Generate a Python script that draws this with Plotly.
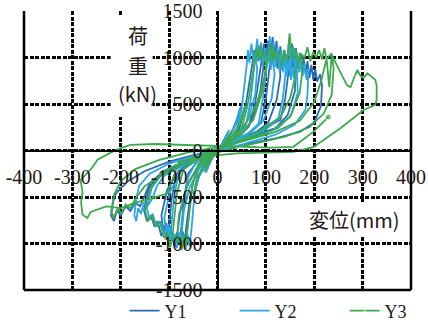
import plotly.graph_objects as go

# ---------------- data (displacement mm, load kN) ----------------
y1_x = [0, 8, 15, 22, 16, 5, -8, -16, -22, -14, -4, 6,
        20, 32, 42, 48, 40, 25, 5, -15, -30, -40, -46, -38, -22, 0,
        25, 45, 58, 66, 72, 76, 80, 84, 88, 92, 95, 88, 72, 50, 20, -10, -35, -50, -58, -64, -68, -72, -76, -80, -84, -78, -62, -40, -10, 15,
        45, 65, 78, 86, 92, 96, 100, 104, 108, 112, 116, 120, 124, 128, 130, 122, 105, 80, 40, 0, -40, -60, -68, -74, -78, -84, -88, -94, -100, -106, -112, -116, -104, -80, -50, 0,
        60, 90, 100, 106, 110, 114, 118, 122, 126, 130, 134, 138, 142, 146, 150, 154, 158, 162, 160, 145, 120, 80, 40, 0, -50, -85, -95, -100, -104, -110, -116, -124, -130, -138, -146, -152, -142, -115, -70, -20, 20,
        90, 130, 140, 146, 150, 154, 158, 162, 166, 170, 174, 178, 182, 186, 190, 194, 198, 202, 206, 212, 216, 214, 200, 170, 120, 60, 0, -60, -120, -140, -150, -160, -170, -180, -190, -200, -208, -214, -220, -216, -210, -185, -150, -100, -50, 0]
y1_y = [0, 60, 130, 200, 110, 30, -50, -130, -210, -110, -20, 40,
        120, 230, 360, 470, 300, 150, 40, -60, -160, -300, -420, -260, -120, 0,
        110, 230, 480, 720, 930, 1080, 960, 1120, 980, 1040, 900, 620, 330, 180, 80, -10, -120, -330, -560, -800, -980, -870, -1020, -900, -940, -680, -360, -170, -30, 50,
        150, 260, 520, 780, 1000, 1150, 950, 1180, 920, 1100, 980, 1060, 880, 980, 800, 540, 300, 200, 110, 10, -110, -240, -480, -760, -980, -880, -1040, -860, -940, -780, -850, -700, -420, -220, -100, 20,
        170, 300, 560, 820, 1040, 1220, 960, 1180, 900, 1120, 860, 1080, 880, 1040, 800, 1000, 780, 920, 640, 380, 240, 170, 90, 0, -120, -260, -520, -800, -960, -840, -920, -760, -820, -700, -760, -640, -400, -230, -120, -20, 60,
        220, 330, 560, 800, 980, 1150, 900, 1100, 880, 1050, 840, 1000, 820, 960, 780, 920, 760, 880, 740, 820, 700, 480, 300, 200, 130, 70, -10, -120, -260, -350, -480, -600, -560, -650, -600, -700, -640, -760, -700, -560, -460, -330, -220, -120, -50, 0]

y2_x = [0, 10, 18, 24, 17, 4, -10, -18, -24, -15, -3,
        15, 30, 40, 46, 38, 22, 0, -18, -32, -42, -48, -38, -20, 0,
        25, 40, 50, 56, 60, 63, 66, 70, 74, 78, 82, 78, 62, 40, 10, -20, -38, -46, -50, -54, -58, -62, -66, -70, -76, -72, -58, -36, -10, 15,
        40, 58, 68, 74, 78, 82, 86, 90, 94, 98, 102, 106, 110, 114, 118, 112, 95, 70, 30, -10, -45, -62, -68, -72, -76, -80, -84, -88, -94, -100, -106, -110, -98, -75, -40, 0,
        60, 85, 94, 100, 104, 108, 112, 116, 120, 124, 128, 132, 136, 140, 144, 148, 152, 156, 160, 164, 166, 152, 125, 85, 40, 0, -50, -80, -90, -95, -98, -104, -110, -118, -126, -134, -140, -146, -136, -110, -60, -10, 30,
        100, 125, 135, 140, 144, 148, 152, 156, 160, 164, 168, 172, 176, 180, 184, 188, 186, 182, 160, 120, 60, 0, -60, -110, -125, -135, -145, -152, -158, -164, -168, -172, -168, -162, -140, -100, -50, 0]
y2_y = [0, 70, 150, 220, 110, 20, -70, -160, -240, -120, -20,
        80, 200, 330, 450, 280, 130, 20, -70, -190, -340, -470, -280, -110, 0,
        100, 220, 450, 700, 900, 1080, 940, 1150, 980, 1060, 880, 600, 320, 170, 50, -40, -160, -380, -640, -860, -1030, -900, -1060, -920, -980, -700, -400, -180, -40, 40,
        140, 260, 520, 780, 1000, 1200, 960, 1160, 920, 1100, 900, 1060, 870, 1000, 820, 560, 320, 200, 100, 0, -130, -300, -560, -800, -1000, -880, -1050, -900, -980, -820, -880, -720, -440, -220, -90, 10,
        160, 290, 560, 820, 1030, 1230, 940, 1170, 900, 1120, 860, 1080, 840, 1020, 800, 980, 760, 900, 740, 860, 620, 380, 240, 160, 80, 0, -120, -240, -500, -780, -960, -820, -900, -760, -820, -680, -740, -620, -400, -220, -100, -10, 60,
        230, 330, 560, 800, 1000, 1180, 900, 1120, 860, 1060, 840, 980, 800, 940, 760, 880, 600, 440, 280, 170, 80, -10, -130, -270, -380, -520, -600, -560, -680, -620, -760, -700, -520, -380, -250, -140, -60, 0]

y3_x = [0, 12, 22, 30, 22, 6, -10, -20, -28, -18, -4,
        20, 38, 50, 56, 46, 28, 5, -15, -30, -42, -50, -40, -22, 0,
        30, 50, 62, 70, 76, 80, 84, 88, 92, 96, 100, 92, 74, 50, 15, -20, -40, -52, -58, -62, -66, -70, -74, -78, -84, -80, -64, -42, -14, 10,
        40, 60, 80, 97, 104, 108, 112, 116, 120, 126, 132, 138, 144, 149, 154, 160, 166, 172, 176, 170, 150, 115, 70, 20, -30, -70, -84, -90, -94, -98, -104, -110, -120, -128, -136, -144, -150, -140, -115, -70, -20, 30,
        90, 130, 150, 160, 166, 172, 180, 186, 192, 198, 204, 210, 216, 221, 226, 231, 236, 240, 236, 220, 190, 140, 80, 20, -50, -110, -150, -170, -180, -190, -198, -206, -214, -220, -214, -200, -170, -120, -60, 0, 60,
        120, 170, 200, 215, 225, 235, 244, 258, 268, 275, 282, 289, 296, 302, 310, 318, 326, 329, 329, 326, 302, 254, 198, 157, 100, 40, -20, -80, -103, -140, -170, -200, -230, -262, -269, -279, -282, -279, -283, -270, -258, -248, -220, -200, -180, -130, -70, 0, 60, 110, 157, 198, 229]
y3_y = [0, 60, 140, 210, 110, 20, -60, -150, -230, -110, -20,
        90, 200, 340, 470, 290, 140, 30, -50, -170, -320, -470, -280, -110, 0,
        110, 240, 480, 720, 920, 1100, 960, 1130, 1000, 1060, 900, 620, 330, 180, 60, -30, -150, -380, -640, -860, -1040, -900, -1070, -930, -990, -700, -400, -180, -40, 30,
        150, 300, 480, 790, 980, 1150, 940, 1120, 980, 1060, 900, 1080, 960, 1260, 980, 1100, 940, 1040, 880, 620, 360, 220, 140, 50, -60, -200, -460, -740, -960, -1040, -880, -940, -760, -820, -700, -760, -640, -420, -240, -110, -20, 70,
        220, 360, 560, 780, 980, 1040, 1000, 1110, 960, 1060, 1000, 1080, 980, 1100, 960, 680, 1040, 880, 600, 400, 250, 150, 80, 10, -100, -250, -380, -520, -620, -580, -680, -620, -720, -660, -480, -330, -200, -100, -20, 40, 110,
        200, 320, 520, 760, 980, 1040, 940, 800, 700, 680, 780, 865, 800, 780, 830, 790, 760, 700, 545, 490, 435, 240, 35, -15, -20, -30, -60, -120, -460, -520, -560, -620, -600, -660, -725, -690, -560, -450, -320, -240, -178, -100, -20, 25, 60, 70, 60, 45, 35, 30, 40, 200, 360]

series_names = ["Y1", "Y2", "Y3"]
series_colors = ["#2b6cb6", "#2aa7e4", "#3caa4c"]

x_ticks = [-400, -300, -200, -100, 0, 100, 200, 300, 400]
y_ticks = [-1500, -1000, -500, 0, 500, 1000, 1500]

# ---------------- figure ----------------
fig = go.Figure()
for name, xs, ys, col in zip(series_names, [y1_x, y2_x, y3_x], [y1_y, y2_y, y3_y], series_colors):
    if name == "Y3":
        sizes = [0] * len(xs)
        sizes[-1] = 6
        fig.add_trace(go.Scatter(x=xs, y=ys, name=name, mode="lines+markers",
                                 line=dict(color=col, width=1.8),
                                 marker=dict(size=sizes, color=col)))
    else:
        fig.add_trace(go.Scatter(x=xs, y=ys, name=name, mode="lines",
                                 line=dict(color=col, width=1.8)))

tickfont = dict(family="Liberation Serif, Times New Roman, serif", size=20, color="#231815")
grid = dict(showgrid=True, gridcolor="black", gridwidth=2.5, griddash="4px,1.5px")

fig.update_xaxes(range=[-400, 400], tickvals=x_ticks, ticktext=[str(v) for v in x_ticks],
                 anchor="free", position=0.5, side="bottom", showline=True, linecolor="black",
                 linewidth=2, zeroline=False, ticks="", ticklabelstandoff=8, tickfont=tickfont,
                 automargin=False, **grid)
fig.update_yaxes(range=[-1500, 1500], tickvals=y_ticks, ticktext=[str(v) for v in y_ticks],
                 anchor="free", position=0.5, side="left", showline=True, linecolor="black",
                 linewidth=2, zeroline=False, ticks="", ticklabelstandoff=10, tickfont=tickfont,
                 automargin=False, **grid)

shapes = [
    # solid border on left, right, bottom
    dict(type="line", xref="paper", yref="paper", x0=0, x1=0, y0=0, y1=1, line=dict(color="black", width=2.5)),
    dict(type="line", xref="paper", yref="paper", x0=1, x1=1, y0=0, y1=1, line=dict(color="black", width=2.5)),
    dict(type="line", xref="paper", yref="paper", x0=0, x1=1, y0=0, y1=0, line=dict(color="black", width=2.5)),
    # white boxes behind axis titles
    dict(type="rect", xref="x", yref="y", x0=-221, x1=-134, y0=360, y1=1435, fillcolor="white",
         line=dict(width=0), layer="above"),
    dict(type="rect", xref="x", yref="y", x0=188, x1=380, y0=-919, y1=-554, fillcolor="white",
         line=dict(width=0), layer="above"),
]

titlefont = dict(family="Noto Sans CJK JP, Noto Sans, sans-serif", size=20, color="#231815")
annotations = [
    dict(x=-165, y=1235, xref="x", yref="y", text="荷", showarrow=False, font=titlefont),
    dict(x=-165, y=915, xref="x", yref="y", text="重", showarrow=False, font=titlefont),
    dict(x=-165, y=610, xref="x", yref="y", text="(kN)", showarrow=False, font=titlefont),
    dict(x=283, y=-745, xref="x", yref="y", text="変位(mm)", showarrow=False, font=titlefont),
]

fig.update_layout(
    width=428, height=322,
    margin=dict(l=24, r=17, t=11, b=32, autoexpand=False),
    paper_bgcolor="white", plot_bgcolor="white",
    shapes=shapes, annotations=annotations,
    showlegend=True,
    legend=dict(orientation="h", x=0.26, y=-0.075, xanchor="left", yanchor="middle",
                font=dict(family="Liberation Serif, Times New Roman, serif", size=18, color="#231815"),
                entrywidth=65, bgcolor="rgba(0,0,0,0)", tracegroupgap=0, borderwidth=0),
)

fig.write_html("out.html", config={"displayModeBar": False},
               post_script="document.body.style.margin='0';")
